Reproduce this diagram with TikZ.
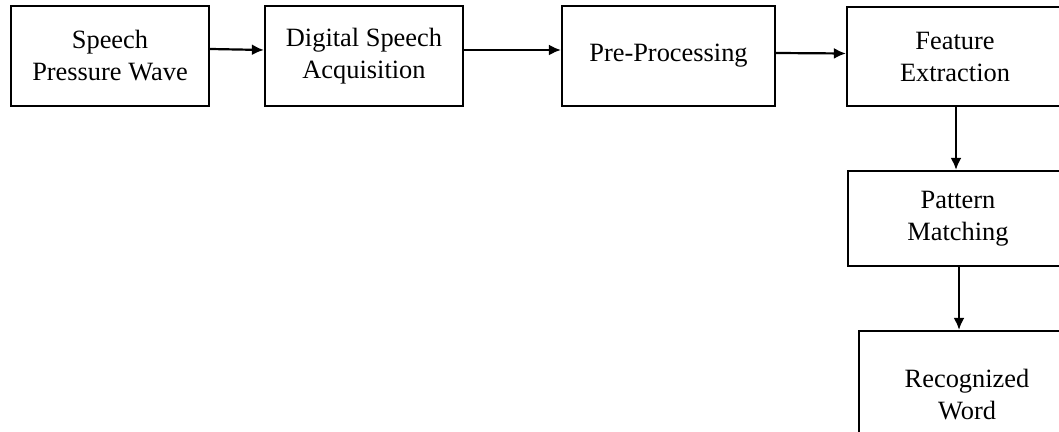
\documentclass[tikz,border=0pt]{standalone}
\usepackage{fontspec}
\setmainfont{Liberation Serif}
\usetikzlibrary{arrows.meta,calc}
\begin{document}
\begin{tikzpicture}[x=0.5pt,y=-0.5pt,
  box/.style={draw=black,line width=1.1pt,rectangle,align=center,inner sep=0pt,
    font=\fontsize{13.2pt}{16pt}\selectfont},
  arr/.style={line width=1.1pt,-{Latex[length=6pt,width=5.5pt]}}]
\useasboundingbox (0,0) rectangle (1059,432);
\node[box,minimum width=99pt,minimum height=50pt] (b1) at (110,56) {Speech\\Pressure Wave};
\node[box,minimum width=99pt,minimum height=50pt] (b2) at (364,56) {Digital Speech\\Acquisition};
\node[box,minimum width=106.5pt,minimum height=50pt] (b3) at (668.5,56) {Pre-Processing};
\node[box,minimum width=108pt,minimum height=49.5pt] (b4) at (955,56.5) {Feature\\Extraction};
\node[box,minimum width=110pt,minimum height=47.5pt] (b5) at (958,218.5) {Pattern\\Matching};
\node[box,minimum width=108pt,minimum height=64pt] (b6) at (967,395) {Recognized\\Word};
\draw[arr] ([yshift=3.5pt]b1.east) -- ([yshift=3pt]b2.west);
\draw[arr] ([yshift=3pt]b2.east) -- ([yshift=3pt]b3.west);
\draw[arr] ([yshift=1.5pt]b3.east) -- ([yshift=1.5pt]b4.west);
\draw[arr] ([xshift=0.5pt]b4.south) -- ([xshift=0.5pt]b4.south |- b5.north);
\draw[arr] ([xshift=0.5pt]b5.south) -- ([xshift=0.5pt]b5.south |- b6.north);
\end{tikzpicture}
\end{document}
